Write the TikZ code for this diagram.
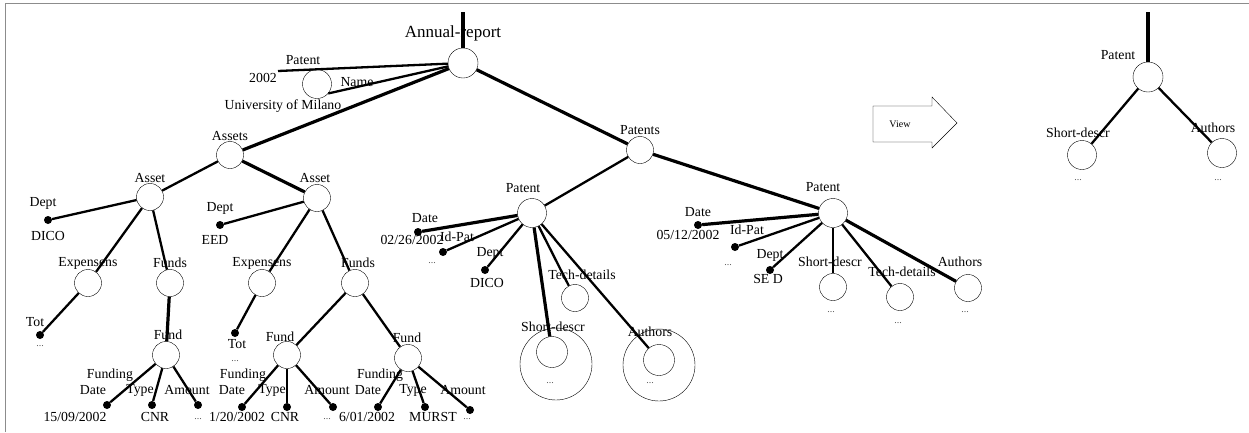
\documentclass[tikz,border=0pt]{standalone}
\usepackage{fontspec}
\setmainfont{Liberation Serif}
\usepackage{xcolor}
\definecolor{cadre}{rgb}{0.55,0.55,0.55}
\definecolor{dots}{rgb}{0.35,0.35,0.35}
\usepackage{tikz}
\usetikzlibrary{arrows.meta, positioning, calc}

\begin{document}
\begin{tikzpicture}[x=1pt, y=-1pt,
    elem/.style={circle, draw, thin, minimum size=27pt, inner sep=0pt},
    ring/.style={circle, draw, thin, minimum size=72pt, inner sep=0pt},
    leaf/.style={circle, fill=black, minimum size=8pt, inner sep=0pt},
    lab/.style={inner sep=0pt, font=\fontsize{13.8}{14}\selectfont},
    etc/.style={inner sep=0pt, text=dots, font=\fontsize{10}{10}\selectfont},
    link/.style={line width=2.3pt},
    biglink/.style={line width=3.2pt}
]
\useasboundingbox (0,0) rectangle (1249,432);
\draw[cadre, thin] (5,432) -- (5,3) -- (1249,3);

\node[elem, minimum size=30pt] (root)  at (463,63)  {};
\node[elem, minimum size=29pt] (pat0)  at (317,84)  {};
\node[elem]   (assets)  at (230,155) {};
\node[elem]   (asset1)  at (150,197) {};
\node[elem]   (asset2)  at (317,198) {};
\node[elem]   (exp1)    at (88,283)  {};
\node[elem]   (funds1)  at (170,283) {};
\node[elem]   (exp2)    at (262,283) {};
\node[elem]   (funds2)  at (355,283) {};
\node[elem]   (fund1)   at (166,355) {};
\node[elem]   (fund2)   at (287,355) {};
\node[elem]   (fund3)   at (408,358) {};
\node[elem]   (patents) at (640,150) {};
\node[elem, minimum size=29pt] (patA) at (532,213) {};
\node[elem]   (techA)   at (575,298) {};
\node[elem, minimum size=31pt] (shortA) at (552,352) {};
\node[ring]   (shortAo) at (556,364) {};
\node[elem, minimum size=31pt] (authA) at (659,360) {};
\node[ring]   (authAo)  at (659,365) {};
\node[elem, minimum size=29pt] (patB) at (833,213) {};
\node[elem]   (shortB)  at (833,287) {};
\node[elem]   (techB)   at (900,297) {};
\node[elem]   (authB)   at (968,288) {};
\node[elem, minimum size=30pt] (patR) at (1148,77) {};
\node[elem, minimum size=29pt] (shortR) at (1082,155) {};
\node[elem, minimum size=29pt] (authR)  at (1222,153) {};

\node[leaf] (dept1)  at (48,220)  {};
\node[leaf] (dept2)  at (220,225) {};
\node[leaf] (tot1)   at (40,335)  {};
\node[leaf] (tot2)   at (235,333) {};
\node[leaf] (f1date) at (107,405) {};
\node[leaf] (f1type) at (152,405) {};
\node[leaf] (f1amt)  at (198,405) {};
\node[leaf] (f2date) at (242,407) {};
\node[leaf] (f2type) at (287,407) {};
\node[leaf] (f2amt)  at (333,407) {};
\node[leaf] (f3date) at (378,407) {};
\node[leaf] (f3type) at (425,407) {};
\node[leaf] (f3amt)  at (470,410) {};
\node[leaf] (dateA)  at (418,232) {};
\node[leaf] (idA)    at (443,252) {};
\node[leaf] (deptA)  at (485,270) {};
\node[leaf] (dateB)  at (698,225) {};
\node[leaf] (idB)    at (735,247) {};
\node[leaf] (deptB)  at (770,270) {};
\coordinate (rootup) at (463,12);
\coordinate (p2002)  at (278,71);
\coordinate (patRup) at (1148,12);

\node[lab, font=\fontsize{17}{17}\selectfont] (lroot) at (453,33) {Annual-report};
\node[lab] (lpat0)  at (303,60)  {Patent};
\node[lab] (l2002)  at (263,78)  {2002};
\node[lab] (lname)  at (357,82)  {Name};
\node[lab] (lmil)   at (283,106) {University of Milano};
\node[lab] (lassets) at (230,136) {Assets};
\node[lab] (lasset1) at (150,178) {Asset};
\node[lab] (lasset2) at (315,178) {Asset};
\node[lab] (ldept1) at (43,203)  {Dept};
\node[lab] (vdept1) at (48,236)  {DICO};
\node[lab] (ldept2) at (220,208) {Dept};
\node[lab] (vdept2) at (215,240) {EED};
\node[lab] (lexp1)  at (88,263)  {Expensens};
\node[lab] (lfunds1) at (170,263) {Funds};
\node[lab] (lexp2)  at (262,263) {Expensens};
\node[lab] (lfunds2) at (358,263) {Funds};
\node[lab] (ltot1)  at (35,322)  {Tot};
\node[etc] (vtot1)  at (40,346)  {...};
\node[lab] (ltot2)  at (237,344) {Tot};
\node[etc] (vtot2)  at (235,361) {...};
\node[lab] (lfund1) at (168,335) {Fund};
\node[lab] (lfund2) at (280,337) {Fund};
\node[lab] (lfund3) at (407,338) {Fund};
\node[lab] (lf1fd)  at (110,375) {Funding};
\node[lab] (lf1d)   at (93,390)  {Date};
\node[lab] (lf1t)   at (140,390) {Type};
\node[lab] (lf1a)   at (187,390) {Amount};
\node[lab] (vf1d)   at (75,417)  {15/09/2002};
\node[lab] (vf1t)   at (155,417) {CNR};
\node[etc] (vf1a)   at (198,419) {...};
\node[lab] (lf2fd)  at (243,375) {Funding};
\node[lab] (lf2d)   at (232,390) {Date};
\node[lab] (lf2t)   at (272,390) {Type};
\node[lab] (lf2a)   at (327,390) {Amount};
\node[lab] (vf2d)   at (237,417) {1/20/2002};
\node[lab] (vf2t)   at (285,417) {CNR};
\node[etc] (vf2a)   at (327,419) {...};
\node[lab] (lf3fd)  at (380,375) {Funding};
\node[lab] (lf3d)   at (368,390) {Date};
\node[lab] (lf3t)   at (413,390) {Type};
\node[lab] (lf3a)   at (463,390) {Amount};
\node[lab] (vf3d)   at (367,417) {6/01/2002};
\node[lab] (vf3t)   at (433,417) {MURST};
\node[etc] (vf3a)   at (467,419) {...};
\node[lab] (lpatents) at (640,130) {Patents};
\node[lab] (lpatA)  at (523,188) {Patent};
\node[lab] (ldateA) at (425,218) {Date};
\node[lab] (vdateA) at (412,240) {02/26/2002};
\node[lab] (lidA)   at (457,237) {Id-Pat};
\node[etc] (vidA)   at (432,263) {...};
\node[lab] (ldeptA) at (490,253) {Dept};
\node[lab] (vdeptA) at (487,283) {DICO};
\node[lab] (ltechA) at (582,275) {Tech-details};
\node[lab] (lshortA) at (553,327) {Short-descr};
\node[etc] (vshortA) at (550,383) {...};
\node[lab] (lauthA) at (650,332) {Authors};
\node[etc] (vauthA) at (650,383) {...};
\node[lab] (lpatB)  at (823,187) {Patent};
\node[lab] (ldateB) at (698,212) {Date};
\node[lab] (vdateB) at (688,235) {05/12/2002};
\node[lab] (lidB)   at (747,230) {Id-Pat};
\node[etc] (vidB)   at (728,265) {...};
\node[lab] (ldeptB) at (770,255) {Dept};
\node[lab] (vdeptB) at (768,279) {SE D};
\node[lab] (lshortB) at (830,262) {Short-descr};
\node[lab] (ltechB) at (902,272) {Tech-details};
\node[lab] (lauthB) at (960,262) {Authors};
\node[etc] (vshortB) at (831,312) {...};
\node[etc] (vtechB) at (898,323) {...};
\node[etc] (vauthB) at (965,312) {...};
\node[lab] (lpatR)  at (1118,55)  {Patent};
\node[lab] (lshortR) at (1078,133) {Short-descr};
\node[etc] (vshortR) at (1078,180) {...};
\node[lab] (lauthR) at (1213,128) {Authors};
\node[etc] (vauthR) at (1218,180) {...};

\draw[thin] (873,106) -- (932,106) -- (932,97) -- (957,123) -- (932,148) -- (932,142) -- (873,142) -- cycle;
\node[etc, text=black, font=\fontsize{10}{10}\selectfont] (lview) at (900,124) {View};

\draw[biglink] (root) -- (rootup);
\draw[link] (root) -- (p2002);
\draw[link] (root) -- (pat0.-40);
\draw[biglink] (root) -- (assets);
\draw[biglink] (root) -- (patents);
\draw[link] (assets) -- (asset1);
\draw[biglink] (assets) -- (asset2);
\draw[link] (asset1) -- (dept1);
\draw[link] (asset1) -- (exp1);
\draw[link] (asset1) -- (funds1);
\draw[link] (exp1) -- (tot1);
\draw[biglink] (funds1) -- (fund1);
\draw[link] (fund1) -- (f1date);
\draw[link] (fund1) -- (f1type);
\draw[link] (fund1) -- (f1amt);
\draw[link] (asset2) -- (dept2);
\draw[link] (asset2) -- (exp2);
\draw[link] (asset2) -- (funds2);
\draw[link] (exp2) -- (tot2);
\draw[link] (funds2) -- (fund2);
\draw[link] (funds2) -- (fund3);
\draw[link] (fund2) -- (f2date);
\draw[link] (fund2) -- (f2type);
\draw[link] (fund2) -- (f2amt);
\draw[link] (fund3) -- (f3date);
\draw[link] (fund3) -- (f3type);
\draw[link] (fund3) -- (f3amt);
\draw[link] (patents) -- (patA);
\draw[biglink] (patents) -- (patB);
\draw[biglink] (patA) -- (dateA);
\draw[link] (patA) -- (idA);
\draw[link] (patA) -- (deptA);
\draw[biglink] (patA) -- (shortA);
\draw[link] (patA) -- (techA);
\draw[link] (patA) -- (authA);
\draw[biglink] (patB) -- (dateB);
\draw[link] (patB) -- (idB);
\draw[link] (patB) -- (deptB);
\draw[link] (patB) -- (shortB);
\draw[link] (patB) -- (techB);
\draw[biglink] (patB) -- (authB);
\draw[biglink] (patR) -- (patRup);
\draw[link] (patR) -- (shortR);
\draw[link] (patR) -- (authR);
\end{tikzpicture}
\end{document}
